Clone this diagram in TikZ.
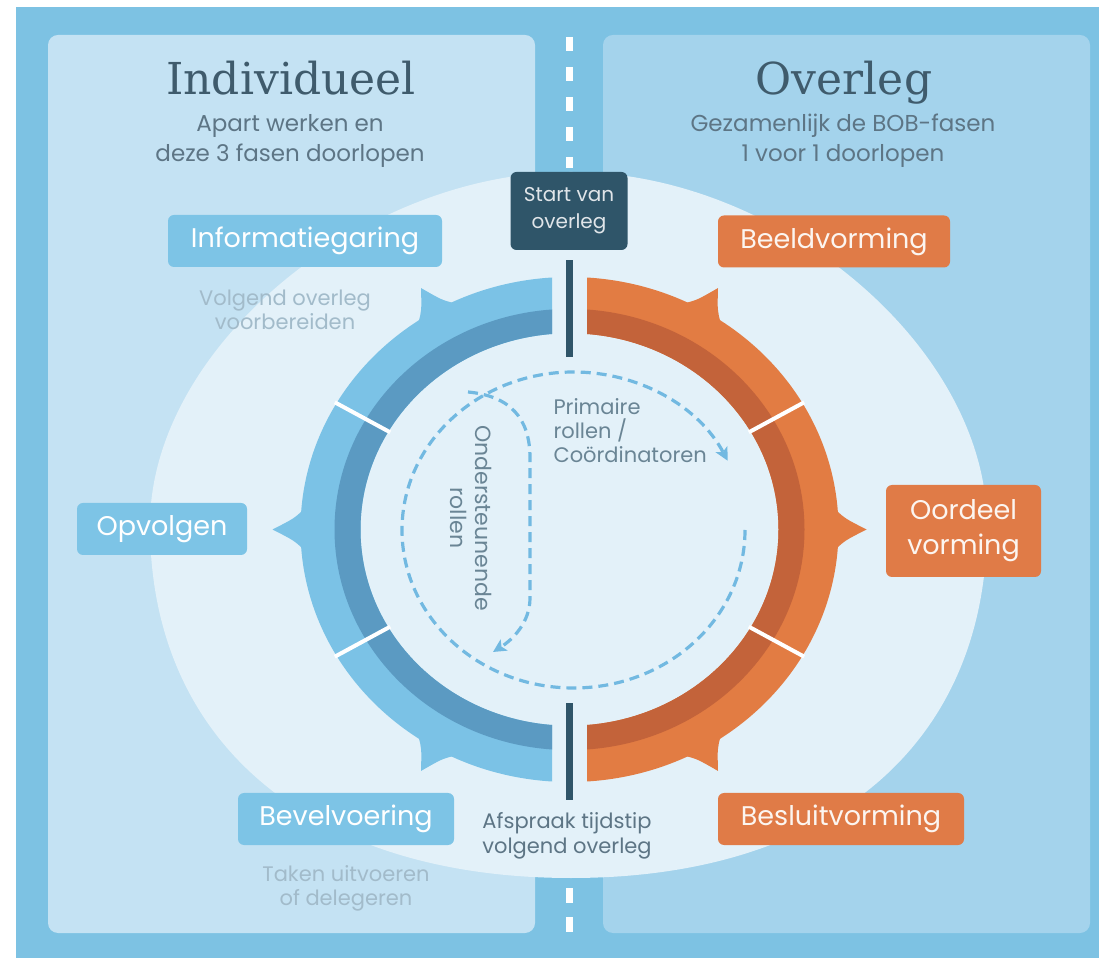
\documentclass[tikz,border=0pt]{standalone}
\usepackage{fontspec}
\setsansfont{Poppins}
\newfontfamily\slabfont{DejaVu Serif}
\usetikzlibrary{arrows.meta}

\definecolor{framebg}{HTML}{7DC2E3}
\definecolor{leftpanel}{HTML}{C4E2F3}
\definecolor{rightpanel}{HTML}{A4D3EC}
\definecolor{ovalbg}{HTML}{E3F1F9}
\definecolor{ringblue}{HTML}{7BC2E6}
\definecolor{ringblued}{HTML}{5B9AC2}
\definecolor{ringorange}{HTML}{E27C43}
\definecolor{ringoranged}{HTML}{C3633A}
\definecolor{boxblue}{HTML}{7DC4E6}
\definecolor{boxorange}{HTML}{E07B47}
\definecolor{startbox}{HTML}{2F5569}
\definecolor{titletext}{HTML}{3F5B6C}
\definecolor{subtext}{HTML}{5D7585}
\definecolor{fainttext}{HTML}{A2BBCA}
\definecolor{innertext}{HTML}{6A8595}
\definecolor{dashblue}{HTML}{72B9E1}

\begin{document}
\begin{tikzpicture}[x=1pt, y=1pt,
    title/.style={font=\slabfont\fontsize{44}{48}\selectfont, text=titletext, anchor=base},
    subtitle/.style={font=\sffamily\fontsize{23}{30}\selectfont, text=subtext, align=center},
    phase/.style={rounded corners=6pt, inner sep=0pt, minimum height=52pt, align=center,
      font=\sffamily\fontsize{27}{35}\selectfont},
    bluephase/.style={phase, fill=boxblue, text=white},
    orangephase/.style={phase, fill=boxorange, text=white!92!boxorange},
    startstyle/.style={rounded corners=6pt, inner sep=0pt, minimum width=117pt, minimum height=78pt,
      fill=startbox, text=white!85!startbox, align=center, font=\sffamily\fontsize{20}{27}\selectfont},
    note/.style={font=\sffamily\fontsize{21}{24}\selectfont, text=fainttext, align=center},
    darknote/.style={font=\sffamily\fontsize{21}{25}\selectfont, text=subtext, align=center},
    innernote/.style={font=\sffamily\fontsize{21}{24}\selectfont, text=innertext, align=left},
    dashline/.style={dashblue, line width=3.2pt, dash pattern=on 10pt off 6pt},
    bar/.style={fill=startbox}]

  \def\cx{569.5};
  \def\cy{428.5};

  \useasboundingbox (0,0) rectangle (1099,958);
  \fill[white] (0,0) rectangle (1099,958);
  \fill[framebg] (16,0) rectangle (1099,951);
  \fill[leftpanel, rounded corners=10pt] (48,25) rectangle (535,923);
  \fill[rightpanel, rounded corners=10pt] (603,25) rectangle (1090,923);

  % divider
  \draw[white, line width=7pt, dash pattern=on 14pt off 16pt] (569,921) -- (569,790);
  \draw[white, line width=7pt, dash pattern=on 15pt off 14pt] (569,70) -- (569,25);

  % light oval
  \fill[ovalbg] (571,786) .. controls (780,786) and (987,609.5) .. (987,433)
    .. controls (987,214.1) and (830.2,80) .. (571,80)
    .. controls (311.8,80) and (150,214.1) .. (150,433)
    .. controls (150,609.5) and (362,786) .. cycle;

  % ring
  \begin{scope}[shift={(\cx,\cy)}, yscale=0.9387]
    \begin{scope}
      \clip (-320,-320) rectangle (-17.5,320);
      \fill[ringblue, even odd rule] (0,0) circle (269) (0,0) circle (209);
      \fill[ringblued, even odd rule] (0,0) circle (235) (0,0) circle (209);
      \foreach \a in {120,180,240}
        \fill[ringblue] ({\a-4.5}:267) .. controls ({\a-2.4}:276) .. (\a:297)
          .. controls ({\a+2.4}:276) .. ({\a+4.5}:267) -- cycle;
    \end{scope}
    \begin{scope}
      \clip (17.5,-320) rectangle (320,320);
      \fill[ringorange, even odd rule] (0,0) circle (269) (0,0) circle (209);
      \fill[ringoranged, even odd rule] (0,0) circle (235) (0,0) circle (209);
      \foreach \a in {60,0,300}
        \fill[ringorange] ({\a-4.5}:267) .. controls ({\a-2.4}:276) .. (\a:297)
          .. controls ({\a+2.4}:276) .. ({\a+4.5}:267) -- cycle;
    \end{scope}
    \foreach \a in {30,150,210,330}
      \draw[white, line width=4pt] (\a:207) -- (\a:271);
  \end{scope}

  \fill[bar] (565.5,601) rectangle (572.5,698);
  \fill[bar] (565.5,158) rectangle (572.5,255);

  % dashed loops
  \coordinate (loopstart) at (745,428);
  \coordinate (branch) at (468,566);
  \coordinate (branchend) at (493,306);
  \draw[dashline, -{Stealth[length=13pt, width=13pt, inset=3pt]}] (loopstart)
    arc[start angle=0, end angle=-334, x radius=171.5, y radius=158];
  \draw[dashline, -{Stealth[length=13pt, width=13pt, inset=3pt]}] (branch)
    .. controls (510,562) and (530,540) .. (530,500) -- (530,360)
    .. controls (530,335) and (512,318) .. (branchend);

  % titles
  \node[title] (indiv) at (291,863) {Individueel};
  \node[title] (overleg) at (844,863) {Overleg};
  \node[subtitle] (indivsub) at (290,817) {Apart werken en\\deze 3 fasen doorlopen};
  \node[subtitle] (overlegsub) at (843,817) {Gezamenlijk de BOB-fasen\\1 voor 1 doorlopen};

  % phases
  \node[startstyle] (start) at (569,747) {Start van\\overleg};
  \node[bluephase, minimum width=274pt] (infog) at (305,717) {Informatiegaring};
  \node[note] (infognote) at (285,648) {Volgend overleg\\voorbereiden};
  \node[bluephase, minimum width=170pt] (opvolg) at (162,429) {Opvolgen};
  \node[bluephase, minimum width=216pt] (bevel) at (346,139) {Bevelvoering};
  \node[note] (bevelnote) at (346,70) {Taken uitvoeren\\of delegeren};
  \node[orangephase, minimum width=232pt] (beeld) at (834,716.5) {Beeldvorming};
  \node[orangephase, minimum width=155pt, minimum height=92pt] (oordeel) at (963.5,427) {Oordeel\\vorming};
  \node[orangephase, minimum width=246pt] (besluit) at (841,139) {Besluitvorming};
  \node[darknote] (afspraak) at (567,122) {Afspraak tijdstip\\volgend overleg};

  % roles
  \node[innernote, anchor=west] (prim) at (550,527) {Primaire\\rollen /\\Coördinatoren};
  \node[innernote, align=center, rotate=-90, font=\sffamily\fontsize{22}{25}\selectfont] (onder) at (471,440) {Ondersteunende\\rollen};

\end{tikzpicture}
\end{document}
